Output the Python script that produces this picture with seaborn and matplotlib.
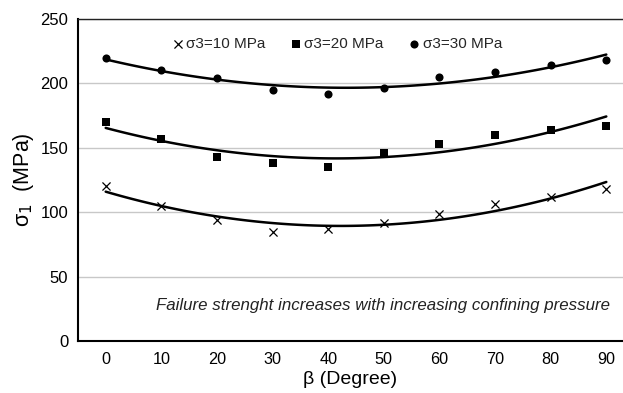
import numpy as np
import pandas as pd
import matplotlib
matplotlib.use("Agg")
import matplotlib.pyplot as plt
import seaborn as sns

# values
beta = [0, 10, 20, 30, 40, 50, 60, 70, 80, 90]
s3_10 = [120, 105, 94, 85, 87, 92, 99, 106, 112, 118]
s3_20 = [170, 157, 143, 138, 135, 146, 153, 160, 164, 167]
s3_30 = [220, 210, 204, 195, 192, 196, 205, 209, 214, 218]
series_names = ["σ3=10 MPa", "σ3=20 MPa", "σ3=30 MPa"]
markers = ["x", "s", "o"]

df = pd.DataFrame({"beta": beta * 3,
                   "sigma1": s3_10 + s3_20 + s3_30,
                   "series": [n for n in series_names for _ in beta]})

sns.set_theme(style="whitegrid")
plt.rcParams["font.family"] = ["Liberation Sans", "DejaVu Sans"]

fig = plt.figure(figsize=(6.23, 3.93), dpi=100)
ax = fig.add_axes([0.125, 0.132, 0.875, 0.820])

for name, m in zip(series_names, markers):
    sub = df[df["series"] == name]
    lw = 0.9 if m == "x" else 0
    sns.regplot(data=sub, x="beta", y="sigma1", order=2, ci=None, ax=ax,
                marker=m, color="black",
                scatter_kws={"s": 34, "linewidths": lw, "alpha": 1},
                line_kws={"lw": 1.8, "color": "black"}, truncate=True)
    ax.scatter([], [], marker=m, color="black", s=34, label=name, linewidths=lw)

ax.set_xlim(-5, 93)
ax.set_ylim(0, 250)
ax.set_xticks(beta)
ax.set_yticks([0, 50, 100, 150, 200, 250])
ax.grid(axis="x", visible=False)
ax.grid(axis="y", color="#c8c8c8", lw=1)
ax.spines["right"].set_visible(False)
ax.spines["top"].set_color("#222222")
ax.spines["top"].set_linewidth(1.0)
for s in ["left", "bottom"]:
    ax.spines[s].set_color("black")
    ax.spines[s].set_linewidth(1.5)
ax.tick_params(axis="y", labelsize=12, length=0, pad=7, colors="black")
ax.tick_params(axis="x", labelsize=11.7, length=0, pad=8, colors="black")

ax.set_xlabel("β (Degree)", fontsize=14, color="black", labelpad=3)
ax.set_ylabel("σ$_1$  (MPa)", fontsize=15.5, color="black", labelpad=3)

handles, labels = ax.get_legend_handles_labels()
ax.legend(handles[-3:], labels[-3:], loc="upper center", bbox_to_anchor=(0.475, 0.985),
          ncol=3, frameon=False, fontsize=11, handletextpad=0.15, columnspacing=1.6,
          handlelength=0.8)

ax.text(90.7, 28, "Failure strenght increases with increasing confining pressure",
        ha="right", va="center", fontsize=12.2, style="italic", color="#222222")

fig.savefig("out.png", dpi=100)
